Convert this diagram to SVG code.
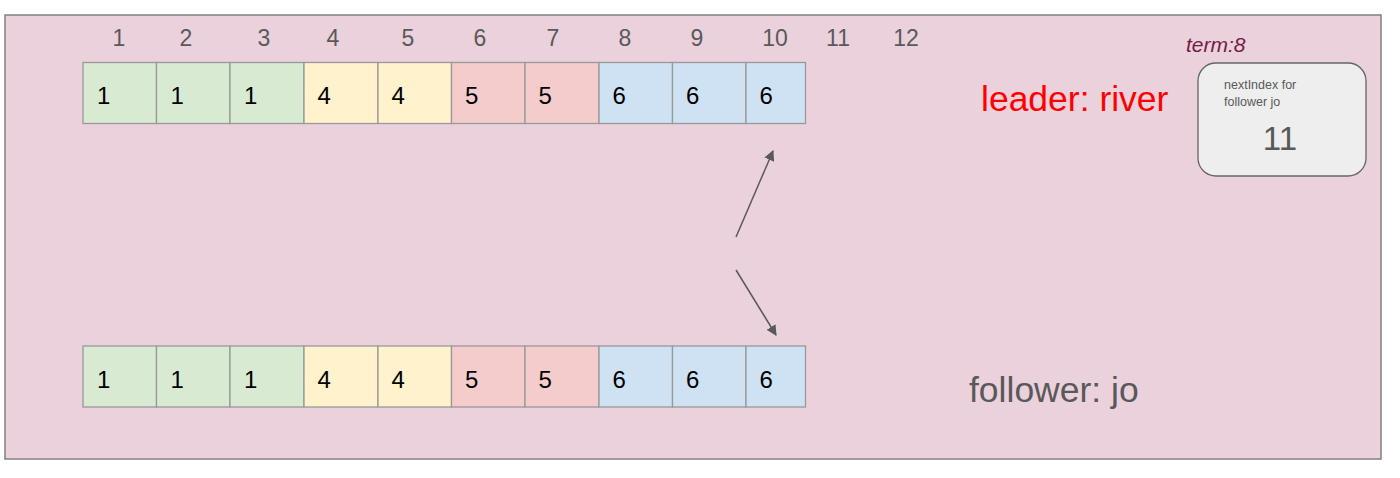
<svg xmlns="http://www.w3.org/2000/svg" width="1400" height="478" viewBox="0 0 1400 478">
<style>
  .frame{fill:#ead1dc;stroke:#808080;stroke-width:1.5}
  .cell{stroke:#999999;stroke-width:1.3}
  .g{fill:#d9ead3}.y{fill:#fff2cc}.r{fill:#f4cccc}.b{fill:#cfe2f3}
  .v{font-family:"Liberation Sans",Arial,sans-serif;font-size:24px;fill:#000}
  .idx{font-family:"Liberation Sans",Arial,sans-serif;font-size:23px;fill:#595959;text-anchor:middle}
  .big{font-family:"Liberation Sans",Arial,sans-serif;font-size:35.5px}
  .conn{stroke:#595959;stroke-width:1.5;fill:none}
</style>
<defs>
  <marker id="ah" viewBox="0 0 10 10" refX="9" refY="5" markerWidth="7" markerHeight="7" orient="auto" markerUnits="strokeWidth">
    <path d="M0,0 L10,5 L0,10 z" fill="#595959"/>
  </marker>
</defs>
<rect width="1400" height="478" fill="#ffffff"/>
<rect id="frame" class="frame" x="5" y="15" width="1376" height="444"/>

<g id="indices">
  <text class="idx" x="119" y="46">1</text>
  <text class="idx" x="186" y="46">2</text>
  <text class="idx" x="264" y="46">3</text>
  <text class="idx" x="333" y="46">4</text>
  <text class="idx" x="408" y="46">5</text>
  <text class="idx" x="480" y="46">6</text>
  <text class="idx" x="553" y="46">7</text>
  <text class="idx" x="625" y="46">8</text>
  <text class="idx" x="697" y="46">9</text>
  <text class="idx" x="775" y="46">10</text>
  <text class="idx" x="838" y="46">11</text>
  <text class="idx" x="906" y="46">12</text>
</g>

<g id="leader-log">
  <rect class="cell g" x="83" y="62.5" width="73.5" height="61"/>
  <rect class="cell g" x="156.5" y="62.5" width="73.5" height="61"/>
  <rect class="cell g" x="230" y="62.5" width="74" height="61"/>
  <rect class="cell y" x="304" y="62.5" width="74" height="61"/>
  <rect class="cell y" x="378" y="62.5" width="73.5" height="61"/>
  <rect class="cell r" x="451.5" y="62.5" width="73.5" height="61"/>
  <rect class="cell r" x="525" y="62.5" width="74" height="61"/>
  <rect class="cell b" x="599" y="62.5" width="73.5" height="61"/>
  <rect class="cell b" x="672.5" y="62.5" width="73.5" height="61"/>
  <rect class="cell b" x="746" y="62.5" width="59.5" height="61"/>
  <text class="v" x="97" y="103.5">1</text>
  <text class="v" x="170.5" y="103.5">1</text>
  <text class="v" x="244" y="103.5">1</text>
  <text class="v" x="317.5" y="103.5">4</text>
  <text class="v" x="391.5" y="103.5">4</text>
  <text class="v" x="465" y="103.5">5</text>
  <text class="v" x="538.5" y="103.5">5</text>
  <text class="v" x="612.5" y="103.5">6</text>
  <text class="v" x="686" y="103.5">6</text>
  <text class="v" x="759.5" y="103.5">6</text>
</g>

<g id="follower-log">
  <rect class="cell g" x="83" y="346" width="73.5" height="61"/>
  <rect class="cell g" x="156.5" y="346" width="73.5" height="61"/>
  <rect class="cell g" x="230" y="346" width="74" height="61"/>
  <rect class="cell y" x="304" y="346" width="74" height="61"/>
  <rect class="cell y" x="378" y="346" width="73.5" height="61"/>
  <rect class="cell r" x="451.5" y="346" width="73.5" height="61"/>
  <rect class="cell r" x="525" y="346" width="74" height="61"/>
  <rect class="cell b" x="599" y="346" width="73.5" height="61"/>
  <rect class="cell b" x="672.5" y="346" width="73.5" height="61"/>
  <rect class="cell b" x="746" y="346" width="59.5" height="61"/>
  <text class="v" x="97" y="387.5">1</text>
  <text class="v" x="170.5" y="387.5">1</text>
  <text class="v" x="244" y="387.5">1</text>
  <text class="v" x="317.5" y="387.5">4</text>
  <text class="v" x="391.5" y="387.5">4</text>
  <text class="v" x="465" y="387.5">5</text>
  <text class="v" x="538.5" y="387.5">5</text>
  <text class="v" x="612.5" y="387.5">6</text>
  <text class="v" x="686" y="387.5">6</text>
  <text class="v" x="759.5" y="387.5">6</text>
</g>

<g id="connectors">
  <line class="conn" x1="736" y1="237" x2="773" y2="151" marker-end="url(#ah)"/>
  <line class="conn" x1="736" y1="270" x2="776" y2="335" marker-end="url(#ah)"/>
</g>

<g id="leader-label">
  <text class="big" x="981" y="111" fill="#ff0000">leader: river</text>
</g>

<g id="follower-label">
  <text class="big" x="969" y="402" fill="#595959">follower: jo</text>
</g>

<g id="term">
  <text x="1186" y="52" font-family="Liberation Sans,Arial,sans-serif" font-size="21" font-style="italic" fill="#741b47">term:8</text>
</g>

<g id="next-index">
  <rect x="1198" y="63" width="168" height="113" rx="18" ry="18" fill="#eeeeee" stroke="#666666" stroke-width="1.3"/>
  <text x="1224" y="89" font-family="Liberation Sans,Arial,sans-serif" font-size="12.5" fill="#595959">nextIndex for</text>
  <text x="1224" y="106" font-family="Liberation Sans,Arial,sans-serif" font-size="12.5" fill="#595959">follower jo</text>
  <text x="1280" y="150" font-family="Liberation Sans,Arial,sans-serif" font-size="33" fill="#595959" text-anchor="middle">11</text>
</g>
</svg>
